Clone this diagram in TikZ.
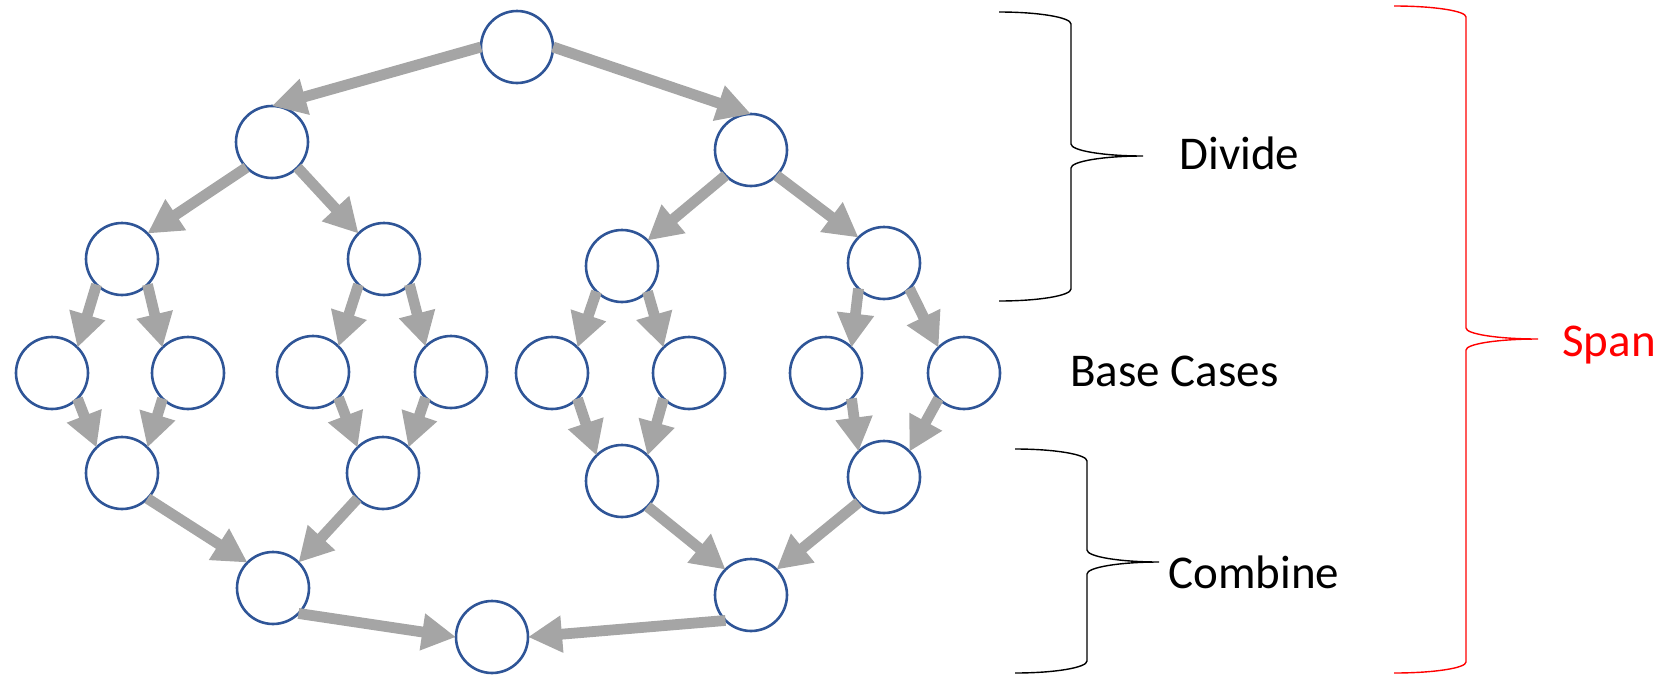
\documentclass[tikz,border=0pt]{standalone}
\usepackage{fontspec}
\setmainfont{Carlito}
\usetikzlibrary{arrows.meta}
\definecolor{nodeblue}{HTML}{2F5597}
\definecolor{arrowgray}{HTML}{A5A5A5}
\definecolor{spanred}{HTML}{FF0000}
\begin{document}
\begin{tikzpicture}[x=0.5pt,y=-0.5pt,
  vnode/.style={circle,draw=nodeblue,line width=1.3pt,fill=white,minimum size=36pt,inner sep=0pt,outer sep=0pt},
  conn/.style={draw=arrowgray,line width=5.4pt,-{Triangle[length=17pt,width=17.5pt]}},
  lbl/.style={anchor=base west,font=\fontsize{23.5}{28}\selectfont,inner sep=0pt},
  bracepath/.style={line width=0.7pt}]
\useasboundingbox (0,0) rectangle (1665,675);
% nodes
\node[vnode] (r0) at (517,47) {};
\node[vnode] (l1) at (272,142) {};
\node[vnode] (r1) at (751,150) {};
\node[vnode] (a2) at (122,259) {};
\node[vnode] (b2) at (384,259) {};
\node[vnode] (c2) at (622,266) {};
\node[vnode] (d2) at (884,263) {};
\node[vnode] (p1) at (52,373) {};
\node[vnode] (p2) at (188,373) {};
\node[vnode] (p3) at (313,372) {};
\node[vnode] (p4) at (451,372) {};
\node[vnode] (p5) at (552,373) {};
\node[vnode] (p6) at (689,373) {};
\node[vnode] (p7) at (826,373) {};
\node[vnode] (p8) at (964,373) {};
\node[vnode] (q1) at (122,473) {};
\node[vnode] (q2) at (383,473) {};
\node[vnode] (q3) at (622,481) {};
\node[vnode] (q4) at (884,477) {};
\node[vnode] (s1) at (273,588) {};
\node[vnode] (s2) at (751,595) {};
\node[vnode] (z) at (492,637) {};
% connectors
\draw[conn] (r0.west) -- (l1.north);
\draw[conn] (r0.east) -- (r1.north);
\draw[conn] (l1.south west) -- (a2.north east);
\draw[conn] (l1.south east) -- (b2.north west);
\draw[conn] (r1.south west) -- (c2.north east);
\draw[conn] (r1.south east) -- (d2.north west);
\draw[conn] (a2.south west) -- (p1.north east);
\draw[conn] (a2.south east) -- (p2.north west);
\draw[conn] (b2.south west) -- (p3.north east);
\draw[conn] (b2.south east) -- (p4.north west);
\draw[conn] (c2.south west) -- (p5.north east);
\draw[conn] (c2.south east) -- (p6.north west);
\draw[conn] (d2.south west) -- (p7.north east);
\draw[conn] (d2.south east) -- (p8.north west);
\draw[conn] (p1.south east) -- (q1.north west);
\draw[conn] (p2.south west) -- (q1.north east);
\draw[conn] (p3.south east) -- (q2.north west);
\draw[conn] (p4.south west) -- (q2.north east);
\draw[conn] (p5.south east) -- (q3.north west);
\draw[conn] (p6.south west) -- (q3.north east);
\draw[conn] (p7.south east) -- (q4.north west);
\draw[conn] (p8.south west) -- (q4.north east);
\draw[conn] (q1.south east) -- (s1.north west);
\draw[conn] (q2.south west) -- (s1.north east);
\draw[conn] (q3.south east) -- (s2.north west);
\draw[conn] (q4.south west) -- (s2.north east);
\draw[conn] (s1.south east) -- (z.west);
\draw[conn] (s2.south west) -- (z.east);
% braces
\draw[bracepath] (999,12) .. controls (1038.8,12) and (1071,17.4) .. (1071,24) -- (1071,144) .. controls (1071,150.6) and (1103.2,156) .. (1143,156) .. controls (1103.2,156) and (1071,161.4) .. (1071,168) -- (1071,289) .. controls (1071,295.6) and (1038.8,301) .. (999,301);
\draw[bracepath] (1015,449) .. controls (1054.8,449) and (1087,454.4) .. (1087,461) -- (1087,550) .. controls (1087,556.6) and (1119.2,562) .. (1159,562) .. controls (1119.2,562) and (1087,567.4) .. (1087,574) -- (1087,661) .. controls (1087,667.6) and (1054.8,673) .. (1015,673);
\draw[bracepath,spanred] (1394,6) .. controls (1433.8,6) and (1466,10.9) .. (1466,17) -- (1466,328) .. controls (1466,334.1) and (1498.2,339) .. (1538,339) .. controls (1498.2,339) and (1466,343.9) .. (1466,350) -- (1466,662) .. controls (1466,668.1) and (1433.8,673) .. (1394,673);
% labels
\node[lbl] (tdiv) at (1179,169) {Divide};
\node[lbl] (tbase) at (1070,386) {Base Cases};
\node[lbl] (tcomb) at (1168,588) {Combine};
\node[lbl,text=spanred] (tspan) at (1562,356) {Span};
\end{tikzpicture}
\end{document}
